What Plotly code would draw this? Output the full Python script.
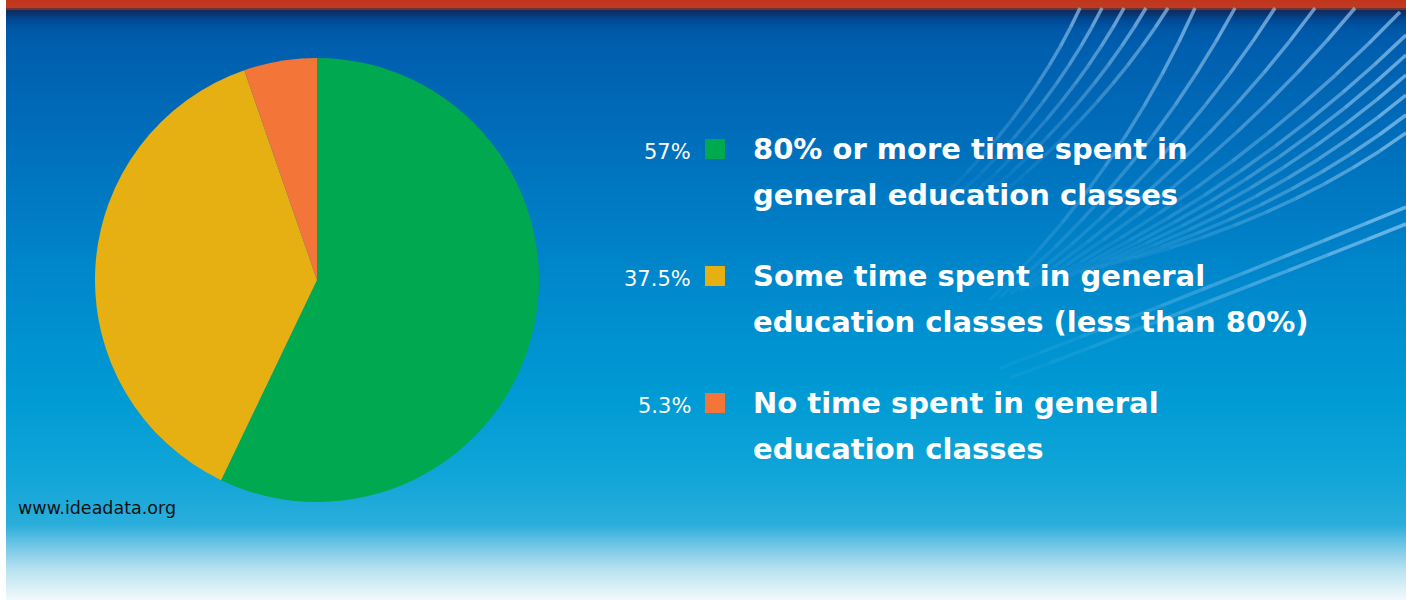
import plotly.graph_objects as go

# ---------------- data ----------------
categories = [
    "80% or more time spent in general education classes",
    "Some time spent in general education classes (less than 80%)",
    "No time spent in general education classes",
]
values = [57, 37.5, 5.3]
label_lines = [
    ["80% or more time spent in", "general education classes"],
    ["Some time spent in general", "education classes (less than 80%)"],
    ["No time spent in general", "education classes"],
]
colors = ["#00A84F", "#E6B012", "#F37638"]
source_text = "www.ideadata.org"

W, H = 1406, 600


def X(px):
    return px / W


def Y(py):
    return 1 - py / H


def hex2rgb(h):
    h = h.lstrip("#")
    return tuple(int(h[i:i + 2], 16) for i in (0, 2, 4))


# background gradient stops (pixel y, colour)
stops = [
    (0, "#C1361A"), (8, "#BE3A22"), (10, "#1A2850"), (14, "#0A3570"),
    (20, "#004A95"), (30, "#0058A8"), (50, "#005FAF"), (150, "#0070BC"),
    (280, "#0088CC"), (400, "#009BD5"), (480, "#12A6D8"), (525, "#2AAEDB"),
    (545, "#6EC6E6"), (570, "#B8E2F1"), (600, "#F2F9FC"),
]


def color_at(y):
    for (y0, c0), (y1, c1) in zip(stops[:-1], stops[1:]):
        if y0 <= y <= y1:
            t = 0 if y1 == y0 else (y - y0) / (y1 - y0)
            a, b = hex2rgb(c0), hex2rgb(c1)
            return "rgb(%d,%d,%d)" % tuple(round(a[k] + (b[k] - a[k]) * t) for k in range(3))
    return stops[-1][1]


shapes = []
step = 2
for y in range(0, H, step):
    shapes.append(dict(type="rect", xref="paper", yref="paper",
                       x0=X(6), x1=1.0, y0=Y(y + step), y1=Y(y),
                       fillcolor=color_at(y + step / 2), line=dict(width=0),
                       layer="below"))

# decorative light streaks (top right), fading toward lower-left
streaks = []
for i in range(5):
    streaks.append(((950 + 14 * i, 190), (1035 + 18 * i, 105), (1080 + 22 * i, 8)))
ends_b = [(1195, 8), (1235, 8), (1275, 8), (1315, 8), (1355, 8), (1400, 12),
          (1406, 35), (1406, 55), (1406, 75), (1406, 95), (1406, 115), (1406, 133)]
for i, e in enumerate(ends_b):
    s = (990 + 10 * i, 300 - 3 * i)
    c = ((s[0] + e[0]) / 2 + 25, (s[1] + e[1]) / 2 + 25)
    streaks.append((s, c, e))
streaks.append(((1000, 368), (1200, 292), (1406, 207)))
streaks.append(((1010, 378), (1210, 302), (1406, 224)))


def bez(s, c, e, t):
    return ((1 - t) ** 2 * s[0] + 2 * (1 - t) * t * c[0] + t ** 2 * e[0],
            (1 - t) ** 2 * s[1] + 2 * (1 - t) * t * c[1] + t ** 2 * e[1])


nseg = 10
for (s, c, e) in streaks:
    for k in range(nseg):
        p0 = bez(s, c, e, k / nseg)
        p1 = bez(s, c, e, (k + 1) / nseg)
        op = 0.05 + 0.6 * ((k + 0.5) / nseg) ** 1.3
        shapes.append(dict(type="line", xref="paper", yref="paper",
                           x0=X(p0[0]), y0=Y(p0[1]), x1=X(p1[0]), y1=Y(p1[1]),
                           line=dict(color="rgba(165,212,250,%.3f)" % op, width=3.5),
                           layer="below"))

# ---------------- pie ----------------
fig = go.Figure(go.Pie(
    labels=categories, values=values, sort=False, direction="clockwise",
    rotation=0, marker=dict(colors=colors, line=dict(width=0)),
    textinfo="none", showlegend=False,
    domain=dict(x=[X(95), X(539)], y=[Y(502), Y(58)]),
))

# ---------------- custom legend ----------------
annotations = []
baselines = [159, 286, 413]
line_gap = 46
for i, (v, lines, col) in enumerate(zip(values, label_lines, colors)):
    b = baselines[i]
    annotations.append(dict(
        x=X(693), y=Y(b - 0.35 * 21), xref="paper", yref="paper",
        xanchor="right", yanchor="middle", showarrow=False,
        text="%g%%" % v,
        font=dict(family="DejaVu Sans", size=21, color="white")))
    shapes.append(dict(type="rect", xref="paper", yref="paper",
                       x0=X(705), x1=X(725), y0=Y(b), y1=Y(b - 20),
                       fillcolor=col, line=dict(width=0)))
    for j, ln in enumerate(lines):
        bl = b + j * line_gap
        annotations.append(dict(
            x=X(751), y=Y(bl - 0.35 * 29), xref="paper", yref="paper",
            xanchor="left", yanchor="middle", showarrow=False,
            text="<b>%s</b>" % ln,
            font=dict(family="DejaVu Sans", size=29, color="white")))

annotations.append(dict(
    x=X(16), y=Y(514 - 0.35 * 17.5), xref="paper", yref="paper",
    xanchor="left", yanchor="middle", showarrow=False, text=source_text,
    font=dict(family="DejaVu Sans", size=17.5, color="#111111")))

fig.update_layout(
    width=W, height=H, margin=dict(l=0, r=0, t=0, b=0),
    paper_bgcolor="white", plot_bgcolor="rgba(0,0,0,0)",
    shapes=shapes, annotations=annotations,
)

fig.write_html("out.html", config={"displayModeBar": False},
               post_script="document.body.style.margin='0';document.body.style.overflow='hidden';")
